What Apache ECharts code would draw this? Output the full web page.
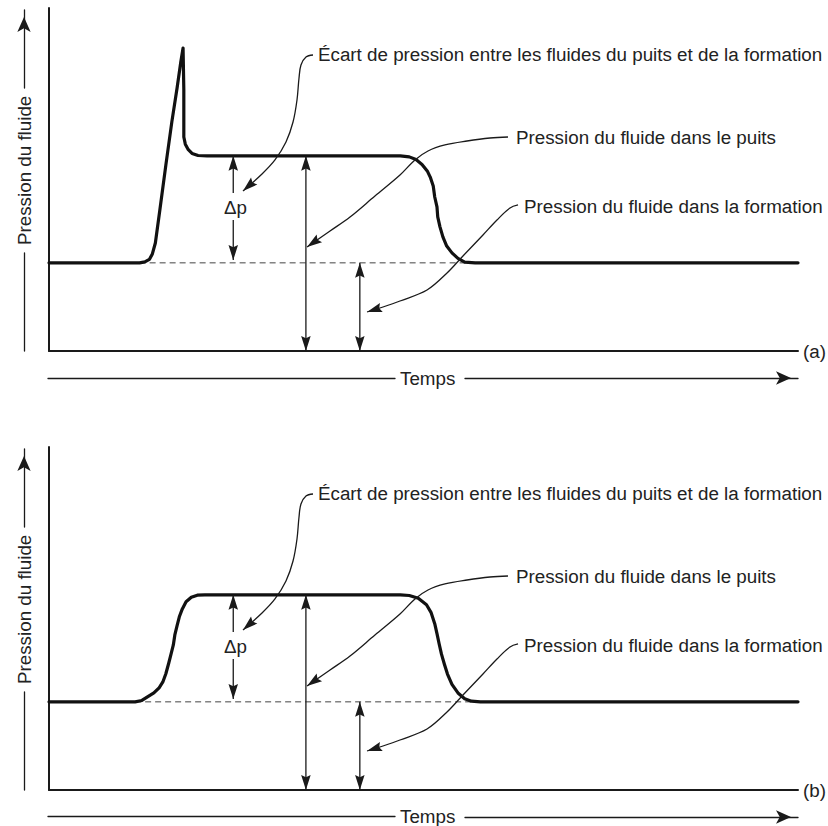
<!DOCTYPE html>
<html>
<head>
<meta charset="utf-8">
<script src="https://cdn.jsdelivr.net/npm/echarts@6/dist/echarts.min.js"></script>
<style>
html,body{margin:0;padding:0;background:#ffffff;}
#chart{width:828px;height:826px;}
</style>
</head>
<body>
<div id="chart"></div>
<script>
// ---------------- DATA (time 0..100, pressure 0..100, arbitrary units) ----------------
const timeRange = [0, 100];
const pressureRange = [0, 100];

// Panel (a): well pressure with a surge peak
const curveA_T = [0, 12.1, 12.8, 13.4, 13.8, 14.2, 14.8, 15.6, 16.4, 17.1, 17.6, 17.9, 18.0, 18.0, 18.2, 18.6, 19.1, 19.9, 21.1, 46.9, 48.1, 49.0, 49.8, 50.5, 50.9, 51.3, 51.5, 51.8, 51.9, 52.2, 52.6, 53.1, 53.8, 54.6, 55.5, 56.9, 100];
const curveA_P = [25.7, 25.7, 26.0, 26.7, 28.3, 31.5, 41.1, 54.2, 66.8, 76.7, 84.3, 88.3, 76.1, 62.4, 60.3, 58.7, 57.6, 57.0, 56.9, 56.9, 56.6, 55.8, 54.4, 52.5, 50.7, 48.1, 44.9, 42.0, 39.1, 36.2, 33.2, 30.6, 28.6, 27.0, 25.9, 25.7, 25.7];

// Panel (b): well pressure without surge
const curveB_T = [0, 11.5, 12.4, 13.2, 14.0, 14.7, 15.2, 15.6, 16.0, 16.3, 16.6, 16.8, 17.1, 17.4, 17.8, 18.3, 19.0, 19.8, 20.8, 46.9, 48.1, 49.3, 50.4, 51.0, 51.5, 51.8, 52.1, 52.4, 52.8, 53.2, 53.8, 54.6, 55.5, 56.4, 57.6, 100];
const curveB_P = [25.7, 25.7, 26.1, 27.2, 28.3, 29.8, 31.5, 33.9, 37.1, 39.7, 42.3, 45.2, 47.9, 50.5, 52.8, 54.9, 56.2, 56.8, 56.9, 56.9, 56.7, 55.9, 54.0, 51.8, 48.5, 45.6, 42.5, 39.6, 36.6, 33.8, 30.8, 28.3, 26.6, 25.9, 25.7, 25.7];

// Levels
const wellLevel = 56.9;
const formationLevel = 25.7;

// Dashed formation-pressure reference segment [start, end] per panel
const dashedA = [12.1, 56.9];
const dashedB = [11.5, 57.6];

// Double / single arrows
const deltaPTime = 24.6;
const deltaPGapTop = 46.1;
const deltaPGapBottom = 38.2;
const deltaPTip = 26.5;
const wellArrowTime = 34.3;
const formationArrowTime = 41.5;

// Leader lines (time, pressure)
const leaderEcartT = [35.25, 34.31, 33.64, 33.38, 33.11, 32.58, 31.64, 30.17, 28.44, 25.90];
const leaderEcartP = [86.30, 85.71, 83.38, 79.59, 73.18, 66.76, 60.93, 55.69, 51.60, 46.65];
const leaderPuitsT = [61.28, 58.88, 55.81, 52.87, 50.60, 48.86, 46.86, 43.52, 40.19, 37.52, 34.45];
const leaderPuitsP = [62.39, 62.10, 61.22, 60.06, 58.31, 55.69, 51.31, 45.19, 39.07, 34.99, 30.32];
const leaderFormationT = [62.62, 61.55, 59.81, 57.94, 55.27, 53.14, 50.47, 46.86, 44.59, 42.46];
const leaderFormationP = [42.57, 41.69, 38.19, 33.82, 27.70, 22.74, 17.78, 14.58, 12.83, 11.37];

// Texts and their anchors
const labelTexts = ['Écart de pression entre les fluides du puits et de la formation', 'Pression du fluide dans le puits', 'Pression du fluide dans la formation', 'Δp'];
const labelT = [35.91, 62.35, 63.42, 23.36];
const labelP = [86.30, 62.39, 42.27, 41.98];

const panelTags = ['(a)', '(b)'];
const yAxisTitle = 'Pression du fluide';
const xAxisTitle = 'Temps';

// ---------------- BUILD ----------------
const FONT = "'Liberation Sans', Arial, Helvetica, sans-serif";
const FS = 18.8;
const INK = '#1a1a1a';
const TXT = '#222222';

function zip(a, b) { return a.map((v, i) => [v, b[i]]); }

function buildShapes() {
  const s = [];
  s.push({ pts: [[deltaPTime, deltaPGapTop], [deltaPTime, wellLevel]], headEnd: true });
  s.push({ pts: [[deltaPTime, deltaPGapBottom], [deltaPTime, deltaPTip]], headEnd: true });
  s.push({ pts: [[wellArrowTime, wellLevel], [wellArrowTime, 0]], headStart: true, headEnd: true });
  s.push({ pts: [[formationArrowTime, formationLevel], [formationArrowTime, 0]], headStart: true, headEnd: true });
  s.push({ pts: zip(leaderEcartT, leaderEcartP), headEnd: true, smooth: 0.35 });
  s.push({ pts: zip(leaderPuitsT, leaderPuitsP), headEnd: true, smooth: 0.35 });
  s.push({ pts: zip(leaderFormationT, leaderFormationP), headEnd: true, smooth: 0.35 });
  labelTexts.forEach((t, i) => s.push({ text: t, pts: [[labelT[i], labelP[i]]] }));
  return s;
}
const shapes = buildShapes();

function arrowHead(tip, from) {
  const L = 15, W = 9.5;
  let dx = tip[0] - from[0], dy = tip[1] - from[1];
  const len = Math.sqrt(dx * dx + dy * dy) || 1;
  dx /= len; dy /= len;
  const nx = -dy, ny = dx;
  const bx = tip[0] - dx * L, by = tip[1] - dy * L;
  const nxp = tip[0] - dx * L * 0.85, nyp = tip[1] - dy * L * 0.85;
  return {
    type: 'polygon',
    shape: { points: [tip, [bx + nx * W / 2, by + ny * W / 2], [nxp, nyp], [bx - nx * W / 2, by - ny * W / 2]] },
    style: { fill: INK, stroke: null }
  };
}

function renderItem(params, api) {
  const sh = shapes[params.dataIndex];
  const pts = sh.pts.map(p => api.coord(p));
  if (sh.text) {
    return {
      type: 'text', x: pts[0][0], y: pts[0][1],
      style: { text: sh.text, fill: TXT, fontSize: FS, fontFamily: FONT, align: 'left', verticalAlign: 'middle' }
    };
  }
  const children = [{
    type: 'polyline',
    shape: { points: pts, smooth: sh.smooth || 0 },
    style: { stroke: INK, lineWidth: 1.3, fill: null }
  }];
  if (sh.headEnd) children.push(arrowHead(pts[pts.length - 1], pts[pts.length - 2]));
  if (sh.headStart) children.push(arrowHead(pts[0], pts[1]));
  return { type: 'group', children };
}

// ---------------- LAYOUT ----------------
const panelTop = [8, 447];
const grids = [], xAxes = [], yAxes = [], series = [];
const curves = [[curveA_T, curveA_P], [curveB_T, curveB_P]];
const dashed = [dashedA, dashedB];

const hidden = { show: false };
function plainAxis(extra) {
  return Object.assign({
    type: 'value', min: 0, max: 1,
    axisTick: { show: false }, axisLabel: { show: false }, splitLine: { show: false }
  }, extra);
}
const arrowLine = (withArrow) => ({
  show: true, onZero: false,
  symbol: withArrow ? ['none', 'arrow'] : ['none', 'none'],
  symbolSize: [10, 15], symbolOffset: [0, -7],
  lineStyle: { color: INK, width: 1.3 }
});
const nameStyle = { fontSize: FS, fontFamily: FONT, color: TXT, verticalAlign: 'middle', align: 'left' };

panelTop.forEach((top, pi) => {
  const off = top - 8;
  // main plot grid
  const gi = grids.length;
  grids.push({ left: 49, top: top, width: 749, height: 343 });
  const xi = xAxes.length, yi = yAxes.length;
  xAxes.push(plainAxis({
    gridIndex: gi, min: timeRange[0], max: timeRange[1],
    axisLine: { show: true, onZero: false, lineStyle: { color: INK, width: 2 } },
    name: panelTags[pi], nameLocation: 'end', nameGap: 5, nameTextStyle: nameStyle
  }));
  yAxes.push(plainAxis({
    gridIndex: gi, min: pressureRange[0], max: pressureRange[1],
    axisLine: { show: true, onZero: false, lineStyle: { color: INK, width: 2 } }
  }));

  // "Temps" arrow: left segment (with name) and right segment (with arrow)
  const tl = grids.length;
  grids.push({ left: 48, top: 377 + off, width: 347, height: 1 });
  xAxes.push(plainAxis({ gridIndex: tl, axisLine: arrowLine(false),
    name: xAxisTitle, nameLocation: 'end', nameGap: 5, nameTextStyle: nameStyle }));
  yAxes.push(plainAxis({ gridIndex: tl, show: false }));
  const tr = grids.length;
  grids.push({ left: 465, top: 377 + off, width: 333, height: 1 });
  xAxes.push(plainAxis({ gridIndex: tr, axisLine: arrowLine(true) }));
  yAxes.push(plainAxis({ gridIndex: tr, show: false }));

  // "Pression du fluide" arrow: bottom segment (with name) and top segment (with arrow)
  const pb = grids.length;
  grids.push({ left: 24, top: 253 + off, width: 1, height: 98 });
  xAxes.push(plainAxis({ gridIndex: pb, show: false }));
  yAxes.push(plainAxis({ gridIndex: pb, axisLine: arrowLine(false),
    name: yAxisTitle, nameLocation: 'end', nameGap: 8, nameRotate: 90, nameTextStyle: nameStyle }));
  const pt = grids.length;
  grids.push({ left: 24, top: 10 + off, width: 1, height: 78 });
  xAxes.push(plainAxis({ gridIndex: pt, show: false }));
  yAxes.push(plainAxis({ gridIndex: pt, axisLine: arrowLine(true) }));

  series.push({
    type: 'line', xAxisIndex: xi, yAxisIndex: yi, silent: true, showSymbol: false, symbol: 'none', z: 2,
    data: [[dashed[pi][0], formationLevel], [dashed[pi][1], formationLevel]],
    lineStyle: { color: '#444', width: 1, type: [6, 4] }
  });
  series.push({
    type: 'line', xAxisIndex: xi, yAxisIndex: yi, silent: true, showSymbol: false, symbol: 'none', z: 4,
    data: zip(curves[pi][0], curves[pi][1]),
    lineStyle: { color: '#111', width: 3.2, join: 'round', cap: 'round' }
  });
  series.push({
    type: 'custom', xAxisIndex: xi, yAxisIndex: yi, silent: true, z: 5,
    renderItem: renderItem,
    encode: { x: 0, y: 1 },
    data: shapes.map(s => [s.pts[0][0], s.pts[0][1]])
  });
});

const chart = echarts.init(document.getElementById('chart'), null, { renderer: 'svg' });
chart.setOption({
  animation: false,
  backgroundColor: '#ffffff',
  grid: grids,
  xAxis: xAxes,
  yAxis: yAxes,
  series: series
});
</script>
</body>
</html>
